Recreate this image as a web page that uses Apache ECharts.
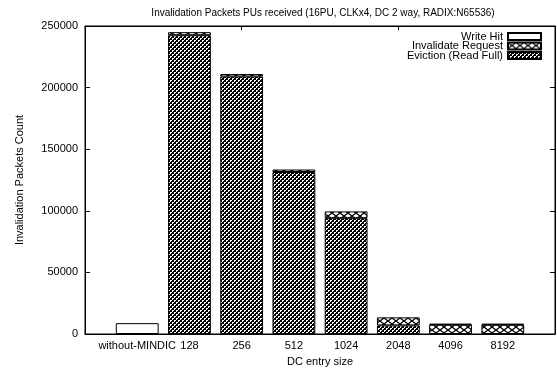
<!DOCTYPE html>
<html>
<head>
<meta charset="utf-8">
<script src="https://cdn.jsdelivr.net/npm/echarts@6/dist/echarts.min.js"></script>
<style>html,body{margin:0;padding:0;background:#fff}#c{width:558px;height:372px}</style>
</head>
<body>
<div id="c"></div>
<script>
const categories = ['without-MINDIC', '128', '256', '512', '1024', '2048', '4096', '8192'];
const evictionReadFull = [null, 242500, 209000, 131500, 94000, 7000, null, null];
const invalidateRequest = [null, 2500, 2000, 2000, 5500, 6500, 7500, 7500];
const writeHit = [8800, null, null, null, null, null, 800, 800];
const yTicks = [0, 50000, 100000, 150000, 200000, 250000];

function makePattern(w, h, draw) {
  const c = document.createElement('canvas');
  c.width = w; c.height = h;
  const ctx = c.getContext('2d');
  ctx.fillStyle = '#fff';
  ctx.fillRect(0, 0, w, h);
  draw(ctx, w, h);
  return { image: c, repeat: 'repeat' };
}
const densePattern = makePattern(4, 4, (ctx) => {
  ctx.fillStyle = '#000';
  for (let y = 0; y < 4; y++) {
    for (let x = 0; x < 4; x++) {
      const blackBlock = ((x >> 1) + (y >> 1)) % 2 === 0;
      const inner = (x % 2 === 1 && y % 2 === 1);
      if (blackBlock || inner) ctx.fillRect(x, y, 1, 1);
    }
  }
});
const crossPattern = makePattern(8, 6, (ctx, w, h) => {
  ctx.strokeStyle = '#000';
  ctx.lineWidth = 1.3;
  ctx.beginPath();
  ctx.moveTo(0, 0); ctx.lineTo(w, h);
  ctx.moveTo(0, h); ctx.lineTo(w, 0);
  ctx.stroke();
});

const axisCats = [''].concat(categories, ['']);
const pad = a => [null].concat(a, [null]);
const font = 'Liberation Sans, Arial, Helvetica, sans-serif';

const chart = echarts.init(document.getElementById('c'), null, { renderer: 'canvas' });
const barBase = { type: 'bar', stack: 'total', barWidth: '82%' };
const tickStyle = { inside: true, length: 4, lineStyle: { color: '#000' } };
chart.setOption({
  animation: false,
  textStyle: { fontFamily: font },
  title: {
    text: 'Invalidation Packets PUs received (16PU, CLKx4, DC 2 way, RADIX:N65536)',
    left: 318, top: 3, textAlign: 'center',
    textStyle: { fontSize: 10, fontWeight: 'normal', color: '#000', fontFamily: font }
  },
  legend: {
    orient: 'vertical', right: 11, top: 26, align: 'right', icon: 'rect',
    itemWidth: 33, itemHeight: 7, itemGap: -1.5,
    textStyle: { fontSize: 11, color: '#000', lineHeight: 9, padding: [0, 0, 0, 0], fontFamily: font },
    data: ['Write Hit', 'Invalidate Request', 'Eviction (Read Full)']
  },
  grid: { left: 85, right: 2, top: 26, bottom: 38, containLabel: false,
    show: true, borderColor: '#000', borderWidth: 1, backgroundColor: 'transparent' },
  xAxis: [{
    type: 'category', data: axisCats, boundaryGap: false,
    name: 'DC entry size', nameLocation: 'middle', nameGap: 22,
    nameTextStyle: { fontSize: 11, color: '#000', fontFamily: font },
    axisLine: { onZero: false, lineStyle: { color: '#000', width: 1 } },
    axisTick: tickStyle,
    axisLabel: { color: '#000', fontSize: 11, margin: 6, interval: 0, fontFamily: font },
    splitLine: { show: false }
  }, {
    type: 'category', data: axisCats, boundaryGap: false, position: 'top',
    axisLine: { show: true, onZero: false, lineStyle: { color: '#000', width: 1 } },
    axisTick: tickStyle,
    axisLabel: { show: false }, splitLine: { show: false }
  }],
  yAxis: [{
    type: 'value', min: 0, max: 250000, interval: 50000,
    name: 'Invalidation Packets Count', nameLocation: 'middle', nameGap: 60,
    nameTextStyle: { fontSize: 11, color: '#000', fontFamily: font },
    axisLine: { show: true, onZero: false, lineStyle: { color: '#000', width: 1 } },
    axisTick: { show: true, inside: true, length: 5, lineStyle: { color: '#000' } },
    axisLabel: { color: '#000', fontSize: 11, margin: 7, fontFamily: font,
      formatter: v => yTicks.indexOf(v) >= 0 ? String(v) : '' },
    splitLine: { show: false }
  }, {
    type: 'value', min: 0, max: 250000, interval: 50000, position: 'right',
    axisLine: { show: true, onZero: false, lineStyle: { color: '#000', width: 1 } },
    axisTick: { show: true, inside: true, length: 5, lineStyle: { color: '#000' } },
    axisLabel: { show: false }, splitLine: { show: false }
  }],
  series: [
    Object.assign({}, barBase, { name: 'Eviction (Read Full)', data: pad(evictionReadFull),
      itemStyle: { color: densePattern, borderColor: '#000', borderWidth: 1 } }),
    Object.assign({}, barBase, { name: 'Invalidate Request', data: pad(invalidateRequest),
      itemStyle: { color: crossPattern, borderColor: '#000', borderWidth: 1 } }),
    Object.assign({}, barBase, { name: 'Write Hit', data: pad(writeHit),
      itemStyle: { color: '#fff', borderColor: '#000', borderWidth: 1 } })
  ]
});
</script>
</body>
</html>
